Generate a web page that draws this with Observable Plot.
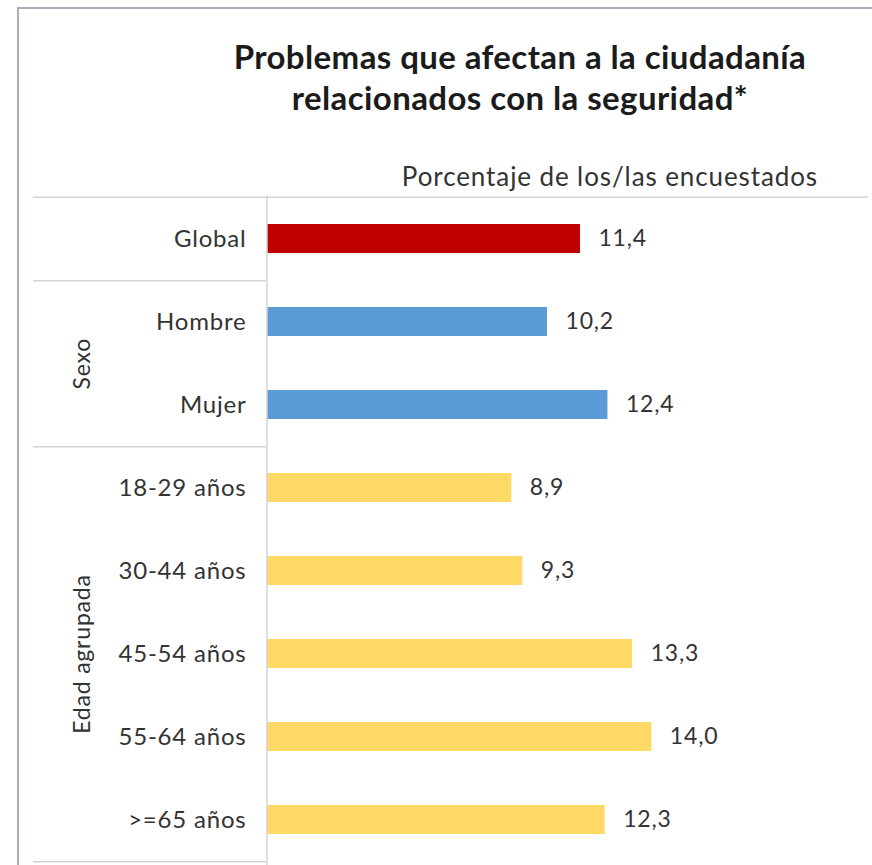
<!DOCTYPE html>
<html>
<head>
<meta charset="utf-8">
<script src="https://cdn.jsdelivr.net/npm/d3@7"></script>
<script src="https://cdn.jsdelivr.net/npm/@observablehq/plot@0.6"></script>
<style>
  html, body { margin: 0; padding: 0; background: #fff; }
  #wrap { position: relative; width: 872px; height: 865px; overflow: hidden; font-family: Lato, "Open Sans", sans-serif; }
  #frame { position: absolute; left: 17px; top: 7px; right: -10px; bottom: -10px; border-left: 2px solid #a7afbf; border-top: 2px solid #a7afbf; }
  #title { position: absolute; left: 168px; width: 704px; top: 36px; text-align: center; font-size: 33px; letter-spacing: 0.4px; font-weight: bold; line-height: 41px; color: #1b1b1b; }
  #subtitle { position: absolute; right: 54px; top: 160px; font-size: 26px; letter-spacing: 0.9px; line-height: 32px; color: #333; }
  #chart { position: absolute; left: 0; top: 0; }
</style>
</head>
<body>
<div id="wrap">
  <div id="frame"></div>
  <div id="chart"></div>
  <div id="title">Problemas que afectan a la ciudadanía<br>relacionados con la seguridad*</div>
  <div id="subtitle">Porcentaje de los/las encuestados</div>
</div>
<script>
const categories = ["Global", "Hombre", "Mujer", "18-29 años", "30-44 años", "45-54 años", "55-64 años", ">=65 años"];
const values = [11.4, 10.2, 12.4, 8.9, 9.3, 13.3, 14.0, 12.3];
const groupOf = ["Global", "Sexo", "Sexo", "Edad agrupada", "Edad agrupada", "Edad agrupada", "Edad agrupada", "Edad agrupada"];
const groupNames = ["Global", "Sexo", "Edad agrupada"];
const groupColors = ["#c00000", "#5b9bd5", "#ffd966"];
const groupLabels = ["Sexo", "Edad agrupada"];
const separatorsBelow = ["Global", "Mujer", ">=65 años"];

const data = categories.map((c, i) => ({category: c, value: values[i], group: groupOf[i]}));

const W = 872, H = 865, mTop = 195, mBottom = 3, mLeft = 267, mRight = 1;
const bw = (H - mTop - mBottom) / categories.length;
const lineColor = "#d3d3d3";
const fmt = v => v.toFixed(1).replace(".", ",");

const groupInfo = groupLabels.map(g => {
  const rows = categories.filter((c, i) => groupOf[i] === g);
  const half = (rows.length - 1) / 2;
  const k = Math.floor(half);
  return {name: g, mid: rows[k], offset: (half - k) * bw};
});

const chart = Plot.plot({
  width: W,
  height: H,
  marginTop: mTop,
  marginBottom: mBottom,
  marginLeft: mLeft,
  marginRight: mRight,
  style: {fontFamily: "Lato, 'Open Sans', sans-serif", color: "#333", background: "transparent", overflow: "visible", letterSpacing: "0.8px"},
  x: {domain: [0, 22], axis: null},
  y: {domain: categories, padding: 0, label: null},
  color: {domain: groupNames, range: groupColors},
  marks: [
    Plot.barX(data, {y: "category", x: "value", fill: "group", insetTop: 27, insetBottom: 27}),
    Plot.text(data, {y: "category", x: "value", text: d => fmt(d.value), textAnchor: "start", dx: 18, fontSize: 23, fill: "#333"}),
    Plot.axisY({tickSize: 0, tickPadding: 21, fontSize: 24, label: null}),
    Plot.ruleY(["Global"], {y: d => d, dy: -bw / 2, insetLeft: -234, insetRight: 3, stroke: lineColor, strokeWidth: 1.5}),
    Plot.ruleY(separatorsBelow, {y: d => d, dy: bw / 2, x2: 0, insetLeft: -234, insetRight: 1, stroke: lineColor, strokeWidth: 1.5}),
    Plot.ruleX([0], {dx: -0.5, insetBottom: -3, stroke: lineColor, strokeWidth: 1.5}),
    ...groupInfo.map(g => Plot.text([g], {y: "mid", dy: g.offset, text: "name", frameAnchor: "left", textAnchor: "middle", dx: 82 - mLeft, rotate: -90, fontSize: 23, fill: "#333"}))
  ]
});
document.getElementById("chart").appendChild(chart);
</script>
</body>
</html>
